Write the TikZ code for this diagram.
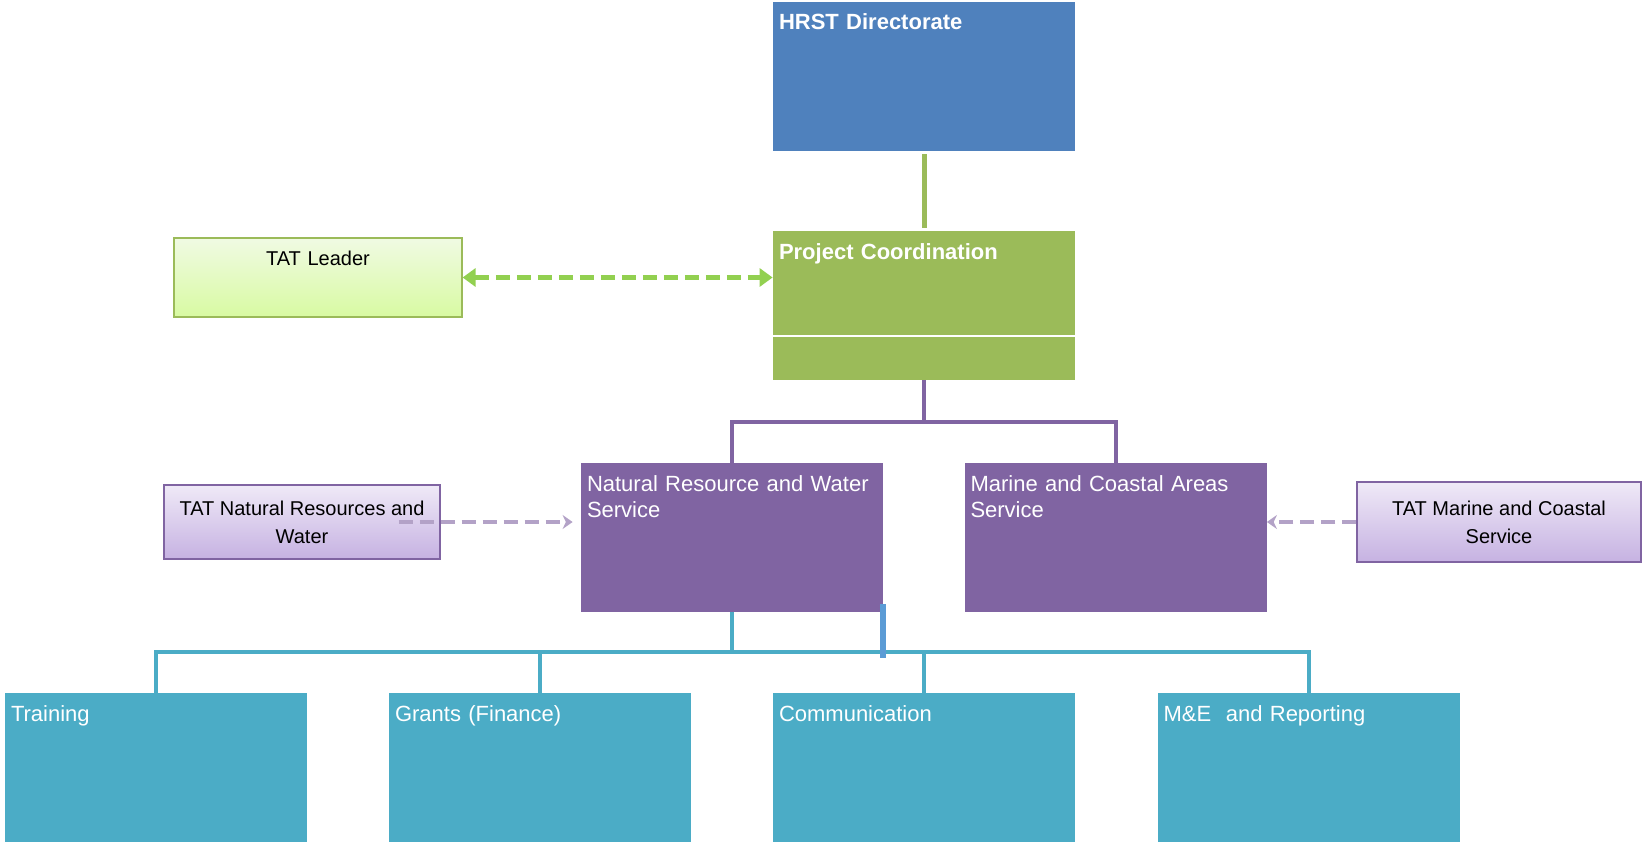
\documentclass[tikz,border=0pt]{standalone}
\usepackage{fontspec}
\setmainfont{Liberation Sans}
\usetikzlibrary{arrows.meta}

\definecolor{hrstblue}{HTML}{4F81BD}
\definecolor{pcgreen}{HTML}{9BBB59}
\definecolor{svcpurple}{HTML}{8064A2}
\definecolor{unitteal}{HTML}{4BACC6}
\definecolor{barblue}{HTML}{5B9BD5}
\definecolor{dashgreen}{HTML}{92D050}
\definecolor{dashpurple}{HTML}{B3A2C7}
\definecolor{leadtop}{HTML}{F0FAE3}
\definecolor{leadbottom}{HTML}{D8FAA2}
\definecolor{tattop}{HTML}{EFE9F7}
\definecolor{tatbottom}{HTML}{C6B2E2}

\begin{document}
\begin{tikzpicture}[x=0.5pt, y=-0.5pt, node distance=192pt]
\tikzstyle{unit} = [rectangle, text width=145pt, inner xsep=3pt, inner ysep=6pt,
    text height=8pt, text depth=54.5pt, align=left, text=white,
    font=\fontsize{11}{13}\selectfont]
\tikzstyle{head} = [unit, font=\fontsize{11}{13}\selectfont\bfseries]
\tikzstyle{tat} = [rectangle, draw=svcpurple, line width=0.6pt, inner sep=0pt,
    top color=tattop, bottom color=tatbottom, align=center,
    font=\fontsize{10}{14}\selectfont]
\tikzstyle{link} = [draw, line width=2pt]
\tikzstyle{advice} = [draw, line width=2.5pt, dash pattern=on 7pt off 3.5pt]

 \useasboundingbox (0,0) rectangle (1642,845);

 \node [head, fill=hrstblue] (hrst) at (924,76.5) {HRST Directorate};
 \node [head, fill=pcgreen, below of=hrst, node distance=114.5pt] (pc) {Project Coordination};

 \node [unit, fill=svcpurple] (nrw) at (732,537.5) {Natural Resource and Water\\Service};
 \node [unit, fill=svcpurple, right of=nrw, node distance=191.75pt] (mca) {Marine and Coastal Areas\\Service};

 \node [unit, fill=unitteal, below of=pc, node distance=231pt] (comm) {Communication};
 \node [unit, fill=unitteal, left of=comm] (grants) {Grants (Finance)};
 \node [unit, fill=unitteal, left of=grants] (training) {Training};
 \node [unit, fill=unitteal, right of=comm, node distance=192.25pt] (me) {M\&E\ \ and Reporting};

 \node [rectangle, draw=pcgreen, line width=0.6pt, top color=leadtop, bottom color=leadbottom,
    text width=138pt, inner xsep=3pt, inner ysep=6pt, text height=7.9pt, text depth=19.6pt,
    align=center, font=\fontsize{10}{14}\selectfont] (tatlead) at (318,277.5) {TAT Leader};
 \node [tat, minimum width=138pt, minimum height=37pt] (tatnrw) at (302,522) {TAT Natural Resources and\\Water};
 \node [tat, minimum width=142pt, minimum height=40pt] (tatmc) at (1499,522) {TAT Marine and Coastal\\Service};

 \path [draw, white, line width=0.8pt] ([yshift=-15.25pt]pc.west) -- ([yshift=-15.25pt]pc.east);

 \coordinate (svcfork) at ([yshift=-21pt]pc.south);
 \coordinate (unitfork) at ([yshift=-20pt]nrw.south);
 \coordinate (barbot) at (nrw.south east |- unitfork);

 \path [link, pcgreen, line width=2.5pt, shorten <=1.5pt, shorten >=1.5pt] (hrst) -- (pc);

 \path [link, svcpurple] (pc) -- (svcfork);
 \path [link, svcpurple] (nrw) |- (svcfork) -| (mca);

 \path [link, unitteal] (nrw) -- (unitfork);
 \path [link, unitteal] (training) |- (unitfork) -| (me);
 \path [link, unitteal] (grants) -- (grants |- unitfork);
 \path [link, unitteal] (comm) -- (comm |- unitfork);

 \path [draw, barblue, line width=3.3pt] ([xshift=-0.25pt, yshift=4pt]nrw.south east) -- ([xshift=-0.25pt, yshift=-3pt]barbot);

 \path [advice, dashgreen, {Triangle[width=9pt,length=6.5pt]}-{Triangle[width=9pt,length=6.5pt]}] (tatlead) -- (tatlead -| pc.west);
 \path [advice, dashpurple, line width=2.3pt, -{Stealth[width=7pt,length=5pt]}, shorten >=4pt] ([xshift=-21pt]tatnrw.east) -- (tatnrw -| nrw.west);
 \path [advice, dashpurple, line width=2.3pt, -{Stealth[width=7pt,length=5pt]}] (tatmc) -- (tatmc -| mca.east);

 %\path [link, dotted] (tatlead.south) |- (nrw.west);
\end{tikzpicture}
\end{document}
